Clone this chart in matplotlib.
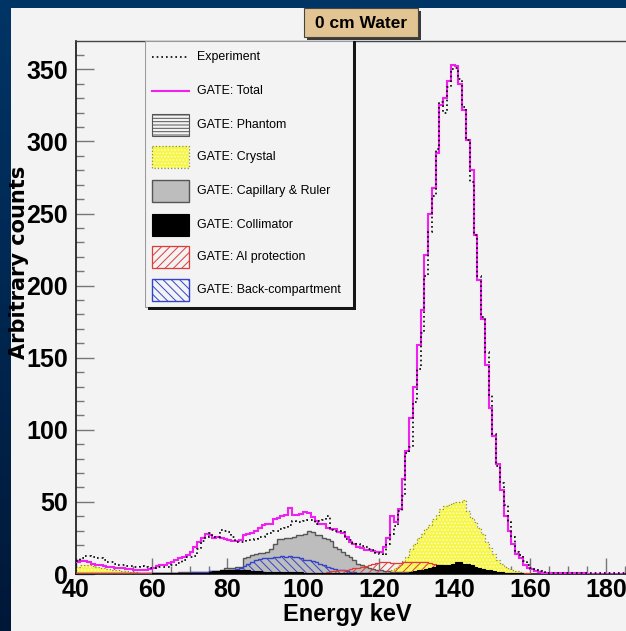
import numpy as np
import matplotlib
matplotlib.use('Agg')
import matplotlib.pyplot as plt
from matplotlib.patches import Rectangle
from matplotlib.ticker import MultipleLocator

W, H = 626, 631

# 1 keV bins, 40 .. 185 keV
bin_lo, bin_hi = 40, 185

experiment = (
    [9, 11, 12.5, 12.5, 12, 11, 11, 10, 8.5, 8]                      # 40
    + [7, 6.5, 6, 5.5, 5.5, 5, 5, 5.5, 5, 4.5]                       # 50
    + [4, 5, 5, 5, 5, 6, 6.5, 7.5, 10, 12]                           # 60
    + [12, 12.5, 17, 23, 26, 28.5, 26, 26, 30.5, 29.5]               # 70
    + [29, 25.5, 22.5, 22.5, 22, 23.5, 23.5, 24, 26, 26]             # 80
    + [28, 28.5, 29.5, 29.5, 31.5, 32, 34, 36.5, 36, 36]             # 90
    + [36.5, 37.5, 37.5, 35, 37, 37.5, 40.5, 30.5, 29.5, 29.5]       # 100
    + [29, 24, 23.5, 21.5, 21, 19.5, 19, 17, 16.5, 14.5]             # 110
    + [14, 13, 21, 28, 33, 44, 54, 84, 88, 119]                      # 120
    + [142, 167, 207, 237, 262, 295, 327, 320, 338, 350]             # 130
    + [351, 343, 324, 301, 272, 235, 207, 178, 154, 124]             # 140
    + [97, 75, 63, 48, 36, 26, 15, 13, 9, 6]                         # 150
    + [4, 3, 2, 1.5, 1, 1, 0.8, 0.8, 0.6, 0.6]                       # 160
    + [0.5, 0.5, 0.5, 0.5, 0.5, 0.5, 0.5, 0.5, 0.5, 0.5]             # 170
    + [0.5, 0.5, 0.5, 0.5, 0.5]                                      # 180
)

gate_total = (
    [8, 9, 9, 8, 7, 6, 6, 5.5, 5, 5]
    + [4.5, 4.5, 4, 3.5, 3.5, 3, 3, 2.8, 2.8, 3.5]
    + [4.5, 5.5, 6.2, 6.5, 7.5, 8.5, 10, 11, 12, 13.5]
    + [15.5, 19, 22, 25, 27.5, 27, 25, 25.5, 25, 24.5]
    + [23.5, 23, 23, 23.5, 27, 28, 28.5, 30, 32, 34]
    + [35, 35, 38, 38.5, 40, 41, 46, 41, 41, 41.5]
    + [43, 42.5, 39.5, 37, 35, 35, 32, 31.5, 31, 29]
    + [28.5, 26, 22.5, 21, 19, 18, 16.5, 16.5, 16, 15.5]
    + [15.5, 19, 25, 40, 36, 45, 66, 85, 108, 130]
    + [159, 183, 221, 250, 268, 292, 325, 330, 342, 353]
    + [352, 340, 322, 301, 280, 235, 204, 177, 145, 115]
    + [96, 76, 58, 40, 30, 21, 14, 11, 6, 4.5]
    + [3.3, 2, 1.5, 1, 0.8, 0.7, 0.6, 0.6, 0.5, 0.5]
    + [0.5, 0.4, 0.4, 0.4, 0.4, 0.3, 0.3, 0.3, 0.3, 0.3]
    + [0.3, 0.3, 0.3, 0.3, 0.3]
)

gate_phantom = [0.0] * 145

gate_crystal = (
    [5, 6, 6, 6.5, 5.5, 5, 4, 4, 3.5, 3]
    + [3, 2.5, 2, 2, 1.5, 1.5, 1, 1, 0.8, 0.8]
    + [0.8, 0.7, 0.7, 0.6, 0.6, 0.6, 0.5, 0.5, 0.5, 0.5]
    + [0.5] * 10
    + [0.5] * 10
    + [0.5] * 10
    + [0.5] * 10
    + [0.5, 0.5, 0.6, 0.6, 0.7, 0.8, 0.8, 0.9, 1, 1]
    + [1, 1.5, 2, 3, 4, 6, 9, 12, 17, 21]
    + [25, 28, 31, 34, 38, 41, 45, 47, 48, 49]
    + [50, 50, 51, 44, 39, 36, 32, 28, 22, 18]
    + [14, 10, 7, 5, 3.5, 2.5, 2, 1.5, 1, 0.8]
    + [0.5, 0.4, 0.3, 0.2, 0.2, 0.1, 0.1, 0.1, 0.1, 0.1]
    + [0.1] * 10
    + [0.1] * 5
)

gate_capillary = (
    [0.5] * 10
    + [0.5] * 10
    + [0.8, 0.8, 1, 1, 1, 1, 1, 1.2, 1.2, 1.2]
    + [1.5, 1.5, 1.5, 1.5, 1.5, 2, 2, 2, 3, 4]
    + [4, 4.5, 5, 5, 11, 12, 13, 14, 14.5, 14.5]
    + [15, 17, 21, 24, 24, 25, 25, 26, 27, 27]
    + [28, 30, 29, 27, 27, 25, 24, 23, 19, 17]
    + [15, 13, 12, 10, 7, 6, 5, 4, 3.5, 3]
    + [2.5, 2, 2, 1.5, 1.5, 1.5, 1.5, 1.5, 1.5, 1.5]
    + [1] * 10
    + [0.5] * 10
    + [0.3] * 10
    + [0.3] * 10
    + [0.3] * 10
    + [0.3] * 5
)

gate_collimator = (
    [0.3] * 10
    + [0.3] * 10
    + [0.5] * 10
    + [1, 1, 1, 1, 1, 1.5, 2, 2, 2.5, 3]
    + [3, 2.5, 3, 3, 2.5, 2.5, 2, 2, 2, 1.5]
    + [1.5] * 10
    + [1] * 10
    + [1] * 10
    + [1, 1, 1, 1, 1, 1, 1, 1, 1.5, 2]
    + [2.5, 3, 3.5, 4, 5, 6, 6, 6.5, 6, 7]
    + [8, 8, 7, 7, 6.5, 5, 4, 3.5, 3, 3]
    + [2, 1.5, 1.5, 1, 1, 0.8, 0.5, 0.4, 0.3, 0.3]
    + [0.2] * 10
    + [0.2] * 10
    + [0.2] * 5
)

gate_al = (
    [0.5] * 10
    + [0.5] * 10
    + [1] * 10
    + [1] * 10
    + [1.5] * 10
    + [1] * 10
    + [1, 1, 1, 1, 1, 1, 1.5, 2, 2, 2.5]
    + [3, 3, 3.5, 4, 4.5, 5, 5.5, 6, 7, 7.5]
    + [8, 8.5, 8.5, 7.5, 7.5, 7.5, 8, 8, 8.5, 8]
    + [8, 8.5, 8, 7.5, 7, 6.5, 6, 5, 4.5, 4]
    + [3.5, 3, 2.5, 2, 1.5, 1.2, 1, 1, 1, 1]
    + [0.5] * 10
    + [0] * 10
    + [0] * 10
    + [0] * 5
)

gate_back = (
    [0.5] * 10
    + [0.5] * 10
    + [1] * 10
    + [1.5, 1.5, 1.5, 1.5, 1.5, 2, 2, 2, 2, 2]
    + [2.5, 3, 3.5, 4.5, 5.5, 7, 8, 9.5, 10.5, 11]
    + [11, 11, 12, 12, 12.5, 12, 12.5, 12, 11.5, 11]
    + [10, 9.5, 9, 8, 7, 6, 5, 4, 3.5, 3]
    + [2.5, 2, 1.5, 1.2, 1, 0.8, 0.8, 0.8, 0.8, 0.8]
    + [0.8] * 10
    + [0.5] * 10
    + [0.5] * 10
    + [0] * 10
    + [0] * 10
    + [0] * 10
    + [0] * 5
)

legend_labels = ["Experiment", "GATE: Total", "GATE: Phantom", "GATE: Crystal",
                 "GATE: Capillary & Ruler", "GATE: Collimator",
                 "GATE: Al protection", "GATE: Back-compartment"]

edges = np.arange(bin_lo, bin_hi + 1)

plt.rcParams['hatch.linewidth'] = 0.7
SANS = ['Liberation Sans', 'DejaVu Sans']


def box(x0, y0, x1, y1):
    # pixel box (top-left origin) -> figure fraction
    return [x0 / W, 1 - y1 / H, (x1 - x0) / W, (y1 - y0) / H]


fig = plt.figure(figsize=(W / 100, H / 100), dpi=100)

# background: blue gradient + light panel
bg = fig.add_axes([0, 0, 1, 1])
bg.set_xlim(0, W)
bg.set_ylim(H, 0)
bg.axis('off')
top_c = np.array([0x00, 0x35, 0x66]) / 255
bot_c = np.array([0x00, 0x18, 0x38]) / 255
t = np.linspace(0, 1, 256)[:, None, None]
grad = top_c * (1 - t) + bot_c * t
grad = np.repeat(grad, 2, axis=1)
bg.imshow(grad, extent=[0, W, H, 0], aspect='auto')
bg.add_patch(Rectangle((11, 7.5), W - 11, H - 7.5, color='#f3f3f3', lw=0))

# title box
bg.add_patch(Rectangle((307, 11), 114, 29, color='#3a3a3a', lw=0))
bg.add_patch(Rectangle((304, 8), 114, 29, facecolor='#e2c592', edgecolor='#444444', lw=0.8))
bg.text(361, 23, '0 cm Water', ha='center', va='center', fontsize=12.5,
        fontweight='bold', family=SANS)

# axis titles
bg.text(347, 614, 'Energy keV', ha='center', va='center', fontsize=17,
        fontweight='bold', family=SANS)
bg.text(19, 262, 'Arbitrary counts', ha='center', va='center', rotation=90,
        fontsize=15, fontweight='bold', family=['DejaVu Sans'])

# main frame
ax = fig.add_axes(box(76, 41, 626, 574))
ax.set_facecolor('#f3f3f3')
ax.set_xlim(40, 40 + (626 - 76) / 3.786)
ax.set_ylim(0, (574 - 41) / 1.442)

ax.stairs(gate_phantom, edges, fill=True, facecolor='none', edgecolor='#555555',
          hatch='-----', lw=0.8, zorder=1)
ax.stairs(gate_crystal, edges, fill=True, facecolor='#f6f64a', lw=0, zorder=2)
ax.stairs(gate_crystal, edges, fill=True, facecolor='none', edgecolor='#ffffc8',
          hatch='.....', lw=0, zorder=2.1)
ax.stairs(gate_crystal, edges, fill=False, color='#8a8a50', ls=':', lw=0.9, zorder=2.2)
ax.stairs(gate_capillary, edges, fill=True, facecolor='#bdbdbd', edgecolor='#555555',
          lw=1.0, zorder=3)
ax.stairs(gate_back, edges, fill=True, facecolor='none', edgecolor='#3344cc',
          hatch='\\\\\\\\', lw=1.0, zorder=4)
ax.stairs(gate_al, edges, fill=True, facecolor='none', edgecolor='#e03a3a',
          hatch='////', lw=0.9, zorder=5)
ax.stairs(gate_collimator, edges, fill=True, facecolor='black', edgecolor='black',
          lw=0.8, zorder=6)
ax.stairs(gate_total, edges, baseline=None, color='#f020f0', lw=1.5, zorder=7)
ax.stairs(experiment, edges, baseline=None, color='black', ls=(0, (1, 1.8)),
          lw=1.2, zorder=8)

ax.xaxis.set_major_locator(MultipleLocator(20))
ax.xaxis.set_minor_locator(MultipleLocator(5))
ax.yaxis.set_major_locator(MultipleLocator(50))
ax.yaxis.set_minor_locator(MultipleLocator(10))
ax.tick_params(axis='x', which='major', direction='in', length=11.5, width=1,
               color='#777777', pad=3, labelsize=18)
ax.tick_params(axis='x', which='minor', direction='in', length=5.8, width=1,
               color='#777777')
ax.tick_params(axis='y', which='major', direction='in', length=13, width=1,
               color='#777777', pad=6, labelsize=18)
ax.tick_params(axis='y', which='minor', direction='in', length=5.8, width=1,
               color='#777777')
for lab in ax.get_xticklabels() + ax.get_yticklabels():
    lab.set_family(SANS)
    lab.set_fontweight('bold')
for s in ['left', 'bottom']:
    ax.spines[s].set_color('black')
    ax.spines[s].set_linewidth(1.1)
ax.spines['top'].set_color('#444444')
ax.spines['top'].set_linewidth(1.0)
ax.spines['right'].set_visible(False)
for t_ in ax.get_xticklines() + ax.get_yticklines():
    t_.set_zorder(9)

# legend panel drawn in pixel coordinates
lg = fig.add_axes(box(145, 41, 357, 311))
lg.set_xlim(145, 357)
lg.set_ylim(311, 41)
lg.axis('off')
lg.add_patch(Rectangle((145, 41), 208, 266, facecolor='#f3f3f3', edgecolor='#9a9a9a', lw=0.8))
lg.add_patch(Rectangle((353, 41), 3, 269, color='#151515', lw=0))
lg.add_patch(Rectangle((148, 307), 208, 3, color='#151515', lw=0))

rows = [57, 91, 125, 157, 191, 225, 257, 290]
sx0, sx1, sh = 152, 189, 22
lg.plot([sx0, sx1], [rows[0]] * 2, color='black', ls=(0, (1, 1.8)), lw=1.2)
lg.plot([sx0, sx1], [rows[1]] * 2, color='#f020f0', lw=1.5)
lg.add_patch(Rectangle((sx0, rows[2] - sh / 2), sx1 - sx0, sh, facecolor='#f3f3f3',
                       edgecolor='#555555', hatch='-----', lw=0.8))
lg.add_patch(Rectangle((sx0, rows[3] - sh / 2), sx1 - sx0, sh, facecolor='#f6f64a', lw=0))
lg.add_patch(Rectangle((sx0, rows[3] - sh / 2), sx1 - sx0, sh, facecolor='none',
                       edgecolor='#ffffc8', hatch='.....', lw=0))
lg.add_patch(Rectangle((sx0, rows[3] - sh / 2), sx1 - sx0, sh, fill=False,
                       edgecolor='#8a8a50', ls=':', lw=0.9))
lg.add_patch(Rectangle((sx0, rows[4] - sh / 2), sx1 - sx0, sh, facecolor='#bdbdbd',
                       edgecolor='#555555', lw=1.0))
lg.add_patch(Rectangle((sx0, rows[5] - sh / 2), sx1 - sx0, sh, facecolor='black',
                       edgecolor='black', lw=0.8))
lg.add_patch(Rectangle((sx0, rows[6] - sh / 2), sx1 - sx0, sh, facecolor='none',
                       edgecolor='#e03a3a', hatch='////', lw=0.9))
lg.add_patch(Rectangle((sx0, rows[7] - sh / 2), sx1 - sx0, sh, facecolor='none',
                       edgecolor='#3344cc', hatch='\\\\\\\\', lw=1.0))
for yy, lab in zip(rows, legend_labels):
    lg.text(197, yy, lab, ha='left', va='center', fontsize=8.9, family=SANS)

fig.savefig('out.png', dpi=100)
